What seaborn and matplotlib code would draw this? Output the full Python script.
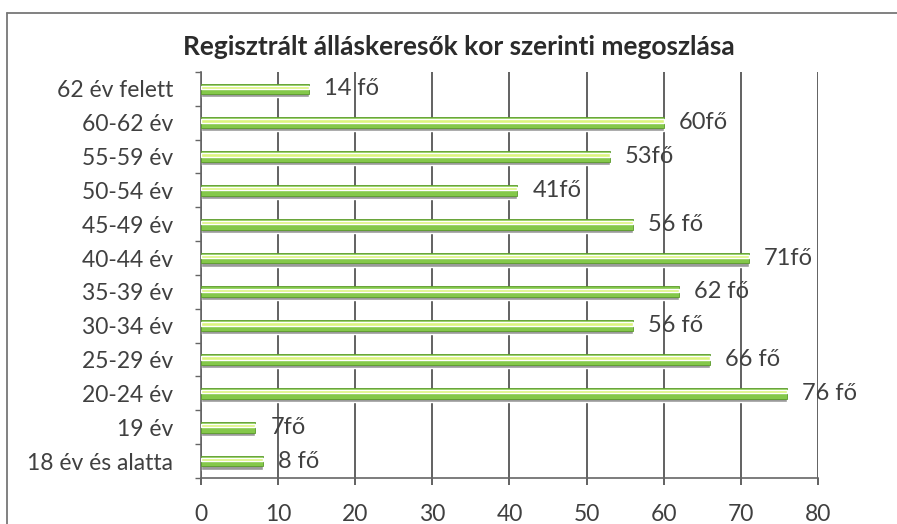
import matplotlib
matplotlib.use("Agg")
import matplotlib.pyplot as plt
import seaborn as sns
import pandas as pd
import numpy as np
from matplotlib.lines import Line2D

categories = ["62 év felett", "60-62 év", "55-59 év", "50-54 év", "45-49 év", "40-44 év",
              "35-39 év", "30-34 év", "25-29 év", "20-24 év", "19 év", "18 év és alatta"]
values = [14, 60, 53, 41, 56, 71, 62, 56, 66, 76, 7, 8]
labels = ["14 fő", "60fő", "53fő", "41fő", "56 fő", "71fő", "62 fő", "56 fő", "66 fő", "76 fő", "7fő", "8 fő"]
xticks = [0, 10, 20, 30, 40, 50, 60, 70, 80]
title = "Regisztrált álláskeresők kor szerinti megoszlása"

sns.set_theme(style="white")
plt.rcParams['font.family'] = ['Lato', 'DejaVu Sans']

df = pd.DataFrame({"kat": categories, "fo": values})

fig = plt.figure(figsize=(8.97, 5.24), dpi=100)
ax = fig.add_axes([0.2241, 0.0878, 0.6878, 0.7748])

# shadow layer, main bar, highlight
sns.barplot(data=df, y="kat", x="fo", order=categories, color="#9a9a9a", width=0.34,
            saturation=1, ax=ax, zorder=2)
for p in ax.patches:
    p.set_y(p.get_y() + 0.08)
n0 = len(ax.patches)
sns.barplot(data=df, y="kat", x="fo", order=categories, color="#84c84a", width=0.32,
            saturation=1, ax=ax, zorder=3, edgecolor="#5a9a2a", linewidth=0.6)
sns.barplot(data=df, y="kat", x="fo", order=categories, color="#dcf47e", width=0.1,
            saturation=1, ax=ax, zorder=4)
for p in ax.patches[2 * n0:]:
    p.set_y(p.get_y() - 0.05)

ax.set_xlim(0, 80)
ax.set_ylim(len(categories) - 0.5, -0.5)
ax.set_xticks(xticks)
ax.set_xticklabels([str(t) for t in xticks])
ax.set_xlabel("")
ax.set_ylabel("")

ax.grid(axis="x", color="#555555", linewidth=1.3, zorder=0)
ax.grid(axis="y", visible=False)
ax.set_axisbelow(True)
for s in ["top", "right"]:
    ax.spines[s].set_visible(False)
for s in ["left", "bottom"]:
    ax.spines[s].set_visible(True)
    ax.spines[s].set_color("#666666")
    ax.spines[s].set_linewidth(1.2)

ax.tick_params(axis="x", length=5, width=1.3, color="#555555", direction="out",
               pad=14, labelsize=16.5, labelcolor="#404040", bottom=True)
ax.tick_params(axis="y", length=0, pad=20, labelsize=16.5, labelcolor="#404040")
ax.set_yticks(np.arange(-0.5, len(categories), 1.0), minor=True)
ax.tick_params(axis="y", which="minor", length=4, width=1, color="#666666", left=True)

for i, (v, lab) in enumerate(zip(values, labels)):
    ax.annotate(lab, xy=(v, i), xytext=(11, 0), textcoords="offset points",
                va="center", ha="left", fontsize=17, color="#404040", zorder=5)

fig.text(0.512, 0.91, title, ha="center", va="center", fontsize=19,
         fontweight="bold", color="#2b2b2b")

# outer border (left and top edges visible)
fig.add_artist(Line2D([0.008, 0.008], [0.0, 0.975], transform=fig.transFigure,
                      color="#777777", linewidth=1.3))
fig.add_artist(Line2D([0.008, 1.0], [0.975, 0.975], transform=fig.transFigure,
                      color="#777777", linewidth=1.3))

fig.savefig("out.png", dpi=100)
